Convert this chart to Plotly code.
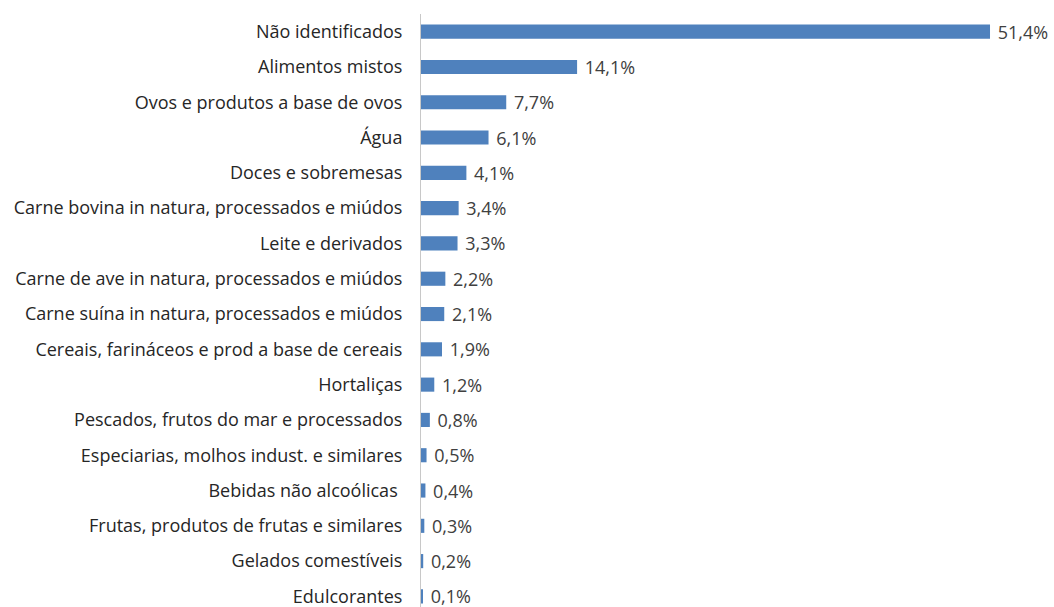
import plotly.graph_objects as go

categories = [
    "Não identificados",
    "Alimentos mistos",
    "Ovos e produtos a base de ovos",
    "Água",
    "Doces e sobremesas",
    "Carne bovina in natura, processados e miúdos",
    "Leite e derivados",
    "Carne de ave in natura, processados e miúdos",
    "Carne suína in natura, processados e miúdos",
    "Cereais, farináceos e prod a base de cereais",
    "Hortaliças",
    "Pescados, frutos do mar e processados",
    "Especiarias, molhos indust. e similares",
    "Bebidas não alcoólicas\u00a0",
    "Frutas, produtos de frutas e similares",
    "Gelados comestíveis",
    "Edulcorantes",
]
values = [51.4, 14.1, 7.7, 6.1, 4.1, 3.4, 3.3, 2.2, 2.1, 1.9, 1.2, 0.8, 0.5, 0.4, 0.3, 0.2, 0.1]
value_labels = [f"{v:.1f}%".replace(".", ",") for v in values]

fig = go.Figure(go.Bar(
    x=values,
    y=categories,
    orientation="h",
    marker=dict(color="#4F81BD", line=dict(width=0)),
    width=0.4,
    text=["\u00a0" + t for t in value_labels],
    textposition="outside",
    constraintext="none",
    cliponaxis=False,
    textfont=dict(family="Open Sans", size=18, color="#404040"),
))

fig.update_layout(
    width=1054,
    height=607,
    margin=dict(l=421, r=2, t=14, b=0),
    paper_bgcolor="white",
    plot_bgcolor="white",
    showlegend=False,
    font=dict(family="Open Sans", size=18, color="#262626"),
)
fig.update_xaxes(
    range=[0, 57],
    showgrid=False,
    zeroline=False,
    showticklabels=False,
    showline=False,
)
fig.update_yaxes(
    type="category",
    range=[16.3, -0.5],
    showgrid=False,
    zeroline=False,
    showline=True,
    linecolor="#C8C8C8",
    linewidth=1,
    ticks="",
    ticklabelstandoff=14,
    tickfont=dict(family="Open Sans", size=18, color="#262626"),
)

fig.write_html("out.html")
